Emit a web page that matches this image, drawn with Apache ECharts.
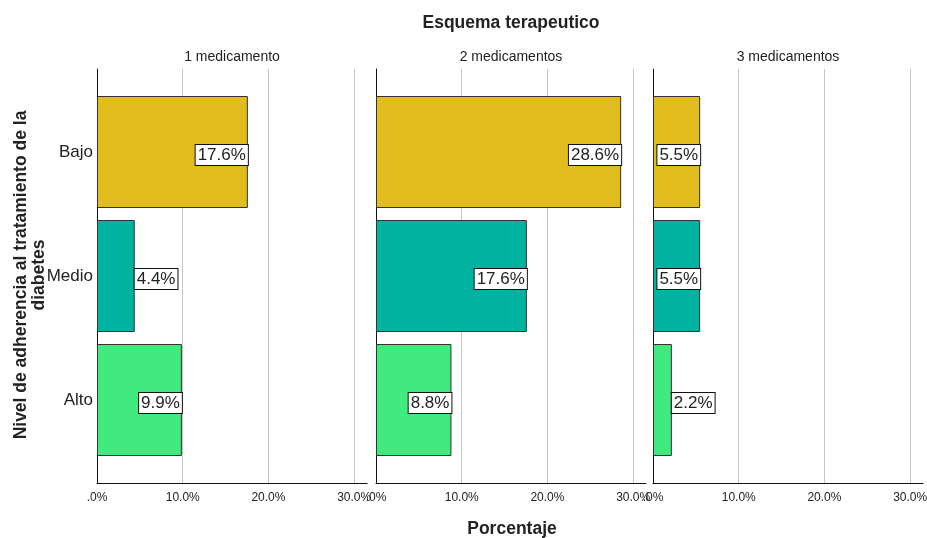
<!DOCTYPE html>
<html>
<head>
<meta charset="utf-8">
<script src="https://cdn.jsdelivr.net/npm/echarts@6/dist/echarts.min.js"></script>
<style>
  html, body { margin: 0; padding: 0; background: #fff; }
  #chart { width: 927px; height: 538px; }
</style>
</head>
<body>
<div id="chart"></div>
<script>
  let categories = ['Bajo', 'Medio', 'Alto'];
  let panels = ['1 medicamento', '2 medicamentos', '3 medicamentos'];
  let values1 = [17.6, 4.4, 9.9];
  let values2 = [28.6, 17.6, 8.8];
  let values3 = [5.5, 5.5, 2.2];
  let colors = ['#e0bc1f', '#00b3a0', '#40ea7e'];

  let allValues = [values1, values2, values3];
  let panelLeft = [97, 376, 653];
  let panelWidth = 270;
  let axisMax = 31.5;
  let font = 'Liberation Sans, Arial, sans-serif';

  let grid = [], xAxis = [], yAxis = [], series = [], title = [];

  title.push({
    text: 'Esquema terapeutico',
    left: 511, top: 14, padding: 0, textAlign: 'center',
    textStyle: { fontFamily: font, fontSize: 17.5, fontWeight: 'bold', color: '#222' }
  });
  title.push({
    text: 'Porcentaje',
    left: 512, top: 520, padding: 0, textAlign: 'center',
    textStyle: { fontFamily: font, fontSize: 17.5, fontWeight: 'bold', color: '#222' }
  });

  panels.forEach(function (name, i) {
    let left = panelLeft[i];
    title.push({
      text: name,
      left: left + panelWidth / 2, top: 50, padding: 0, textAlign: 'center',
      textStyle: { fontFamily: font, fontSize: 14, fontWeight: 'normal', color: '#222' }
    });

    // outer grid: axis lines, split lines, tick labels
    grid.push({ left: left, top: 69, width: panelWidth, height: 414, outerBoundsMode: 'none', containLabel: false });
    // inner grid: the bars
    grid.push({ left: left, top: 90, width: panelWidth, height: 372, outerBoundsMode: 'none', containLabel: false });

    xAxis.push({
      gridIndex: i * 2, type: 'value', min: 0, max: axisMax, interval: 10,
      axisLine: { show: true, lineStyle: { color: '#111', width: 1 } },
      axisTick: { show: false },
      axisLabel: {
        fontFamily: font, fontSize: 12, color: '#222', margin: 9,
        showMaxLabel: false, hideOverlap: false,
        formatter: function (v) { return v === 0 ? '.0%' : v.toFixed(1) + '%'; }
      },
      splitLine: { show: true, showMinLine: false, showMaxLine: false, lineStyle: { color: '#c4c4c4', width: 1 } }
    });
    xAxis.push({
      gridIndex: i * 2 + 1, type: 'value', min: 0, max: axisMax,
      axisLine: { show: false }, axisTick: { show: false },
      axisLabel: { show: false }, splitLine: { show: false }
    });

    yAxis.push({
      gridIndex: i * 2, type: 'value', min: 0, max: 1,
      axisLine: { show: true, lineStyle: { color: '#111', width: 1 } },
      axisTick: { show: false }, axisLabel: { show: false }, splitLine: { show: false }
    });
    yAxis.push({
      gridIndex: i * 2 + 1, type: 'category', data: categories, inverse: true,
      axisLine: { show: false }, axisTick: { show: false },
      axisLabel: { show: i === 0, fontFamily: font, fontSize: 17, color: '#222', margin: 4 }
    });

    series.push({
      type: 'bar',
      xAxisIndex: i * 2 + 1,
      yAxisIndex: i * 2 + 1,
      barWidth: 112,
      data: allValues[i].map(function (v, j) {
        return {
          value: v,
          itemStyle: { color: colors[j], borderColor: '#333', borderWidth: 1 },
          label: { position: v < 5 ? 'right' : 'insideRight' }
        };
      }),
      label: {
        show: true,
        distance: 0,
        offset: [0, 3],
        formatter: function (p) { return p.value.toFixed(1) + '%'; },
        fontFamily: font, fontSize: 17, color: '#222',
        backgroundColor: '#fff', borderColor: '#111', borderWidth: 1,
        padding: [2, 2, 1, 2]
      }
    });
  });

  let option = {
    animation: false,
    backgroundColor: '#fff',
    title: title,
    grid: grid,
    xAxis: xAxis,
    yAxis: yAxis,
    series: series,
    graphic: [{
      type: 'text',
      x: 30, y: 275,
      rotation: Math.PI / 2,
      style: {
        text: 'Nivel de adherencia al tratamiento de la\ndiabetes',
        textAlign: 'center', textVerticalAlign: 'middle',
        font: 'bold 17.5px ' + font, fill: '#222', lineHeight: 18
      }
    }]
  };

  var myChart = echarts.init(document.getElementById('chart'));
  myChart.setOption(option);
</script>
</body>
</html>
